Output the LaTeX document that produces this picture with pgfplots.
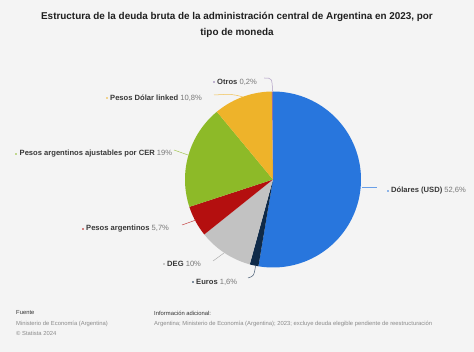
\documentclass[border=0pt]{standalone}
\usepackage{pgfplots}
\pgfplotsset{compat=1.18}
\usepgfplotslibrary{polar}
\usepackage{fontspec}
\setmainfont{Liberation Sans}
\definecolor{bg}{HTML}{F4F4F4}
\definecolor{cUSD}{HTML}{2876DD}
\definecolor{cEUR}{HTML}{0F2A48}
\definecolor{cDEG}{HTML}{C2C2C2}
\definecolor{cARS}{HTML}{B40F0F}
\definecolor{cCER}{HTML}{8DBA28}
\definecolor{cDL}{HTML}{EEB32A}
\definecolor{cOT}{HTML}{8A6FA8}
\definecolor{tname}{HTML}{383838}
\definecolor{tval}{HTML}{777777}
\definecolor{tfoot}{HTML}{8A8A8A}
% shares (percent), clockwise from 12 o'clock
\def\vUSD{52.6}\def\vEUR{1.6}\def\vDEG{10}\def\vARS{5.7}\def\vCER{19}\def\vDL{10.8}\def\vOT{0.2}
\pgfmathsetmacro\tot{\vUSD+\vEUR+\vDEG+\vARS+\vCER+\vDL+\vOT}
\pgfmathsetmacro\aA{90}
\pgfmathsetmacro\aB{\aA-\vUSD/\tot*360}
\pgfmathsetmacro\aC{\aB-\vEUR/\tot*360}
\pgfmathsetmacro\aD{\aC-\vDEG/\tot*360}
\pgfmathsetmacro\aE{\aD-\vARS/\tot*360}
\pgfmathsetmacro\aF{\aE-\vCER/\tot*360}
\pgfmathsetmacro\aG{\aF-\vDL/\tot*360}
\pgfmathsetmacro\aH{\aG-\vOT/\tot*360}
\begin{document}
\begin{tikzpicture}[x=1pt,y=-1pt]
\fill[bg] (0,0) rectangle (474,352);
\node[font=\bfseries\fontsize{9.9}{16}\selectfont, color=black!88, align=center] at (237,24.5)
  {Estructura de la deuda bruta de la administración central de Argentina en 2023, por\\tipo de moneda};
\begin{polaraxis}[at={(273pt,-179.5pt)}, anchor=origin, scale only axis, width=176pt, height=176pt,
  xmin=0, xmax=360, ymin=0, ymax=1, hide axis, clip=false]
\addplot[fill=cUSD, draw=none, domain=\aB:\aA, samples=150] {1} -- (axis cs:0,0) -- cycle;
\addplot[fill=cEUR, draw=none, domain=\aC:\aB, samples=10] {1} -- (axis cs:0,0) -- cycle;
\addplot[fill=cDEG, draw=none, domain=\aD:\aC, samples=40] {1} -- (axis cs:0,0) -- cycle;
\addplot[fill=cARS, draw=none, domain=\aE:\aD, samples=25] {1} -- (axis cs:0,0) -- cycle;
\addplot[fill=cCER, draw=none, domain=\aF:\aE, samples=70] {1} -- (axis cs:0,0) -- cycle;
\addplot[fill=cDL, draw=none, domain=\aG:\aF, samples=40] {1} -- (axis cs:0,0) -- cycle;
\addplot[fill=cOT, draw=none, domain=\aH:\aG, samples=5] {1} -- (axis cs:0,0) -- cycle;
\end{polaraxis}
% leader lines
\draw[cOT!70, line width=0.5pt] (264,78) .. controls (272,78) .. (272.5,91);
\draw[cDL!80, line width=0.5pt] (214,95) .. controls (232,94) .. (243,97);
\draw[cCER!80, line width=0.5pt] (174,150) -- (188,155);
\draw[cARS!80, line width=0.5pt] (182,225) -- (196,220);
\draw[cDEG!90!black, line width=0.5pt] (213,261) -- (224,253);
\draw[cEUR!80, line width=0.5pt] (248,278) .. controls (254,276) .. (255.5,266);
\draw[cUSD!70, line width=0.5pt] (362,187) -- (377,187);
% labels
\tikzset{lab/.style={anchor=west, inner sep=0pt, font=\fontsize{7.6}{8}\selectfont, text=tname}}
\fill[cOT] (214,82) circle (0.9);
\node[lab] at (217,82) {\textbf{Otros} \textcolor{tval}{0,2\%}};
\fill[cDL] (107,98) circle (0.9);
\node[lab] at (110,98) {\textbf{Pesos Dólar linked} \textcolor{tval}{10,8\%}};
\fill[cCER] (16,154) circle (0.9);
\node[lab] at (19.5,154) {\textbf{Pesos argentinos ajustables por CER} \textcolor{tval}{19\%}};
\fill[cARS] (83,229) circle (0.9);
\node[lab] at (86,229) {\textbf{Pesos argentinos} \textcolor{tval}{5,7\%}};
\fill[cDEG!80!black] (164,264) circle (0.9);
\node[lab] at (167,264) {\textbf{DEG} \textcolor{tval}{10\%}};
\fill[cEUR] (193,282) circle (0.9);
\node[lab] at (196,282) {\textbf{Euros} \textcolor{tval}{1,6\%}};
\fill[cUSD] (388,191) circle (0.9);
\node[lab] at (391,191) {\textbf{Dólares (USD)} \textcolor{tval}{52,6\%}};
% footer
\tikzset{foot/.style={anchor=west, inner sep=0pt, font=\fontsize{5.85}{6.5}\selectfont}}
\node[foot, text=black!80] at (16,313) {Fuente};
\node[foot, text=tfoot] at (16,323.5) {Ministerio de Economía (Argentina)};
\node[foot, text=tfoot] at (16,333.5) {© Statista 2024};
\node[foot, text=black!80] at (154,313) {Información adicional:};
\node[foot, text=tfoot] at (154,323.5) {Argentina; Ministerio de Economía (Argentina); 2023; excluye deuda elegible pendiente de reestructuración};
\end{tikzpicture}
\end{document}
